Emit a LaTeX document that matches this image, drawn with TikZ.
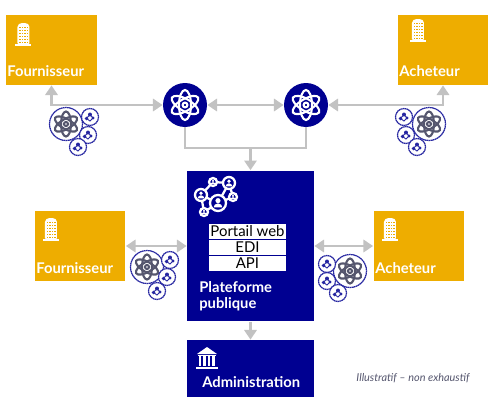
\documentclass[tikz,border=0pt]{standalone}
\usepackage{fontspec}
\setmainfont{Lato}
\usetikzlibrary{arrows.meta}
\definecolor{navy}{HTML}{000091}
\definecolor{ocre}{HTML}{EEAD00}
\definecolor{liengris}{HTML}{C2C2C2}
\definecolor{atomgris}{HTML}{55566E}
\tikzset{
	acteur/.style={fill=ocre, minimum width=1.82cm, minimum height=1.4cm, inner sep=0pt},
	bloc/.style={fill=navy, minimum width=2.54cm, inner sep=0pt},
	noyau/.style={circle, fill=navy, minimum size=0.88cm, inner sep=0pt},
	canal/.style={fill=white, minimum width=1.54cm, minimum height=0.3cm, inner sep=0pt, font=\fontsize{8.5}{10}\selectfont},
	titre/.style={anchor=base west, inner sep=0pt, text=white, font=\fontsize{8.4}{10}\selectfont\bfseries},
	lien/.style={draw=liengris, line width=1.2pt, >={Triangle[width=7pt, length=5.5pt]}},
	atom/.pic={
		\foreach \a in {30,90,150}
			\draw[rotate=\a] (0,0) ellipse (1 and 0.4);
		\draw (0,0) circle (0.16);
	},
	immeuble/.pic={
		\fill[white, rounded corners=1pt] (-6,11) -- (-6,-9) -- (-3,-11) -- (3,-11) -- (6,-9) -- (6,11) -- cycle;
		\fill[white] (-8,10) rectangle (8,12);
		\foreach \i in {-4,-1.5,1,3.5}
			\foreach \j in {-7,-4,-1,2,5,8}
				\fill[ocre] (\i,\j) rectangle ++(1.2,1.4);
	},
	banque/.pic={
		\fill[white] (-10,-4) -- (0,-11) -- (10,-4) -- cycle;
		\foreach \i in {-8,-3.5,1,5.5}
			\fill[white] (\i,-2) rectangle ++(2.5,10);
		\fill[white] (-9,-3.5) rectangle (9,-2);
		\fill[white] (-11,9) rectangle (11,11);
	},
	personne/.pic={
		\fill[navy, draw=white, line width=1.3pt] (0,0) circle (#1);
		\fill[white] (0,-0.3*#1) circle (0.32*#1);
		\fill[white] (-0.55*#1,0.55*#1) arc (180:360:0.55*#1 and 0.5*#1) -- cycle;
	},
}
% amas d'atomes
\newcommand{\petitrond}[1]{
	\draw[navy!85, dash pattern=on 0.9pt off 0.25pt, line width=0.7pt, fill=white] (#1) circle (8.5);
	\fill[navy!85] (#1) ++(-3.5,1.5) circle (1.8) ++(3.5,-4) circle (2) ++(3,3.5) circle (1.7);
	\draw[navy!85, line width=0.5pt] (#1) ++(-3.5,1.5) -- ++(3.5,-4) -- ++(3,3.5) -- ++(-3,3) -- cycle;
}
\newcommand{\grandrond}[1]{
	\draw[navy!85, dash pattern=on 0.9pt off 0.25pt, line width=0.7pt, fill=white] (#1) circle (16.5);
	\path (#1) pic[draw=atomgris, line width=1.2pt, scale=12.5] {atom};
}
\begin{document}
\begin{tikzpicture}[x=0.02cm, y=-0.02cm]
	\useasboundingbox (0,0) rectangle (495,400);
	% Acteurs
	\node[acteur] (fournhaut) at (51.5,50) {};
	\node[acteur] (achhaut) at (443,50) {};
	\node[acteur] (fournbas) at (80,246) {};
	\node[acteur] (achbas) at (419,246) {};
	% Noyaux
	\node[noyau] (noyaug) at (185,105) {};
	\node[noyau] (noyaud) at (306,105) {};
	\coordinate (jonction) at (250.5,148);
	% Plateforme
	\node[bloc, minimum height=3.02cm] (plateforme) at (250.5,246) {};
	\node[bloc, minimum height=1.14cm] (admin) at (250.5,368.5) {};
	\node[canal] (portail) at (247.5,231) {Portail web};
	\node[canal] (edi) at (247.5,247) {EDI};
	\node[canal] (api) at (247.5,263.5) {API};
	% Liens
	\draw[lien, <->] (fournhaut.south) |- (noyaug.west);
	\draw[lien, <->] (achhaut.south) |- (noyaud.east);
	\draw[lien, <->] (noyaug.east) -- (noyaud.west);
	\draw[lien] (noyaug.south) |- (jonction) -| (noyaud.south);
	\draw[lien, ->] (jonction) -- (plateforme.north);
	\draw[lien, <->] (fournbas.east) -- (plateforme.west);
	\draw[lien, <->] (achbas.west) -- (plateforme.east);
	\draw[lien, ->] (plateforme.south) -- (admin.north);
	% Textes
	\node[titre] (tfournhaut) at (7,76) {Fournisseur};
	\node[titre] (tachhaut) at (399,76) {Acheteur};
	\node[titre] (tfournbas) at (36,273) {Fournisseur};
	\node[titre] (tachbas) at (375,273) {Acheteur};
	\node[titre] (tplateforme) at (199,292) {Plateforme};
	\node[titre] (tpublique) at (199,308) {publique};
	\node[titre] (tadmin) at (202,387) {Administration};
	\node[anchor=base, inner sep=0pt, text=atomgris, font=\fontsize{6.2}{8}\selectfont\itshape] (legende) at (413,381) {Illustratif – non exhaustif};
	% Icones
	\path (noyaug) pic[draw=white, line width=1.2pt, scale=15] {atom};
	\path (noyaud) pic[draw=white, line width=1.2pt, scale=15] {atom};
	\path (23.5,34) pic {immeuble};
	\path (418,30) pic {immeuble};
	\path (51,229) pic {immeuble};
	\path (390,229) pic {immeuble};
	\path (207,358) pic {banque};
	% reseau
	\draw[white, line width=1.3pt] (213,182) -- (229,183) -- (233,197) -- (218,203) -- (204,212) -- (201,195) -- (213,182);
	\draw[white, line width=1.3pt] (229,183) -- (218,203) -- (201,195);
	\path (213,182) pic {personne=4};
	\path (229,183) pic {personne=6};
	\path (201,195) pic {personne=6};
	\path (233,197) pic {personne=4};
	\path (218,203) pic {personne=8};
	\path (204,212) pic {personne=4};
	% Amas
	\grandrond{66,124}
	\petitrond{90,117}
	\petitrond{88,135}
	\petitrond{78,147}
	\grandrond{429,124}
	\petitrond{404,117}
	\petitrond{406,135}
	\petitrond{417,147}
	\grandrond{147,267}
	\petitrond{170,260}
	\petitrond{167,277}
	\petitrond{157,291}
	\grandrond{350,271}
	\petitrond{327,264}
	\petitrond{327,281}
	\petitrond{338,293}
\end{tikzpicture}
\end{document}
